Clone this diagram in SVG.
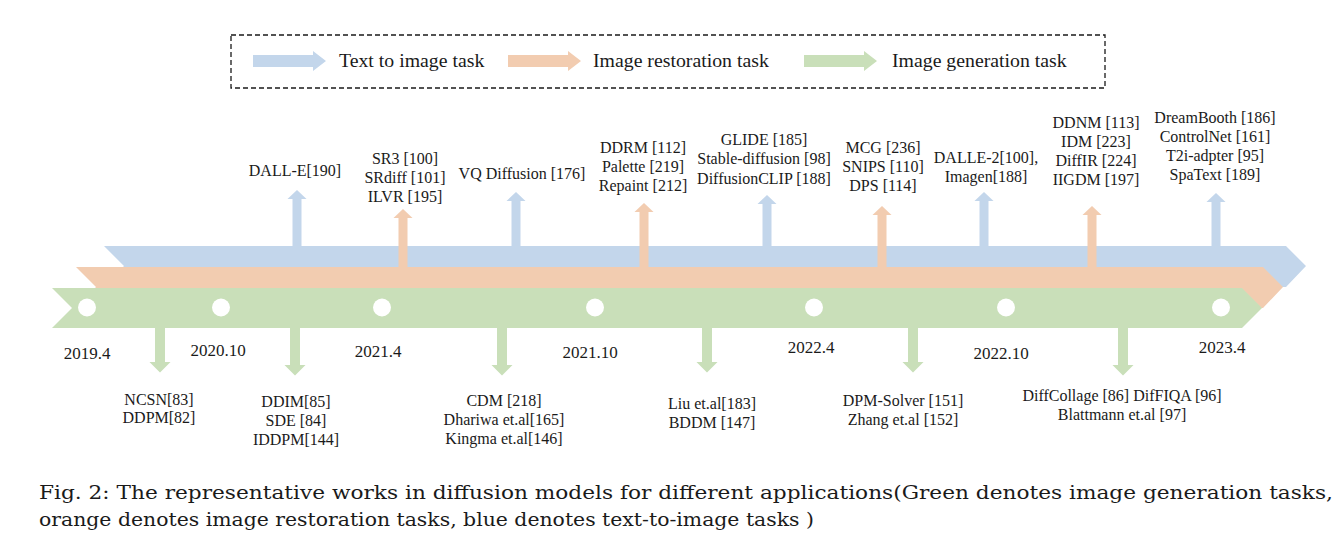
<svg xmlns="http://www.w3.org/2000/svg" width="1341" height="551" viewBox="0 0 1341 551">
<style>
.blue{fill:#c3d6eb}
.orange{fill:#f2ccb0}
.green{fill:#c9dfb9}
.lbl{font-family:"Liberation Serif","Times New Roman",serif;font-size:16px;fill:#1a1a1a;text-anchor:middle}
.yr{font-family:"Liberation Serif","Times New Roman",serif;font-size:17px;fill:#1a1a1a;text-anchor:middle}
.leg{font-family:"Liberation Serif","Times New Roman",serif;font-size:19.8px;fill:#1a1a1a}
.cap{font-family:"DejaVu Serif",serif;font-size:19px;fill:#1a1a1a}
.dot{fill:#ffffff}
</style>
<rect width="1341" height="551" fill="#ffffff"/>

<g id="legend">
  <rect x="231" y="35" width="874" height="53" fill="none" stroke="#1a1a1a" stroke-width="1.3" stroke-dasharray="5 3"/>
  <g id="legend-text2image">
    <path class="blue" d="M253,55 H313 V51 L326,61 L313,71 V67 H253 Z"/>
    <text class="leg" x="339" y="67">Text to image task</text>
  </g>
  <g id="legend-restoration">
    <path class="orange" d="M508,55 H568 V51 L581,61 L568,71 V67 H508 Z"/>
    <text class="leg" x="593" y="67">Image restoration task</text>
  </g>
  <g id="legend-generation">
    <path class="green" d="M804,55 H864 V51 L877,61 L864,71 V67 H804 Z"/>
    <text class="leg" x="892" y="67">Image generation task</text>
  </g>
</g>

<g id="bands">
  <path id="band-blue" class="blue" d="M104,246 H1286 L1306,266 L1286,287 H104 L124,266 Z"/>
  <path id="band-orange" class="orange" d="M76,267 H1263 L1283,287 L1263,308 H76 L96,287 Z"/>
  <path id="band-green" class="green" d="M52,288 H1242 L1262,308 L1242,328 H52 L72,308 Z"/>
  <circle class="dot" cx="87" cy="307.5" r="9"/>
  <circle class="dot" cx="221" cy="307.5" r="9"/>
  <circle class="dot" cx="382" cy="307.5" r="9"/>
  <circle class="dot" cx="595" cy="307.5" r="9"/>
  <circle class="dot" cx="814" cy="307.5" r="9"/>
  <circle class="dot" cx="1006" cy="307.5" r="9"/>
  <circle class="dot" cx="1221" cy="307.5" r="9"/>
</g>

<g id="connectors">
  <path class="blue" d="M292.5,247 V199 H287.5 L297,190 L306.5,199 H301.5 V247 Z"/>
  <path class="blue" d="M511.5,247 V201 H506.5 L516,192 L525.5,201 H520.5 V247 Z"/>
  <path class="blue" d="M762.5,247 V204 H757.5 L767,195 L776.5,204 H771.5 V247 Z"/>
  <path class="blue" d="M979.5,247 V201 H974.5 L984,192 L993.5,201 H988.5 V247 Z"/>
  <path class="blue" d="M1211.5,247 V202 H1206.5 L1216,193 L1225.5,202 H1220.5 V247 Z"/>
  <path class="orange" d="M398.5,268 V218 H393.5 L403,209 L412.5,218 H407.5 V268 Z"/>
  <path class="orange" d="M639.5,268 V212 H634.5 L644,203 L653.5,212 H648.5 V268 Z"/>
  <path class="orange" d="M877.5,268 V215 H872.5 L882,206 L891.5,215 H886.5 V268 Z"/>
  <path class="orange" d="M1087.5,268 V215 H1082.5 L1092,206 L1101.5,215 H1096.5 V268 Z"/>
  <path class="green" d="M155,327 V362 H149.5 L160,372.5 L170.5,362 H165 V327 Z"/>
  <path class="green" d="M290,327 V365 H284.5 L295,375.5 L305.5,365 H300 V327 Z"/>
  <path class="green" d="M497,327 V365 H491.5 L502,375.5 L512.5,365 H507 V327 Z"/>
  <path class="green" d="M702,327 V362 H696.5 L707,372.5 L717.5,362 H712 V327 Z"/>
  <path class="green" d="M908,327 V362 H902.5 L913,372.5 L923.5,362 H918 V327 Z"/>
  <path class="green" d="M1118,327 V365 H1112.5 L1123,375.5 L1133.5,365 H1128 V327 Z"/>
</g>

<g id="years">
  <text class="yr" x="87" y="359">2019.4</text>
  <text class="yr" x="218" y="356">2020.10</text>
  <text class="yr" x="378" y="357">2021.4</text>
  <text class="yr" x="590" y="358">2021.10</text>
  <text class="yr" x="811" y="353">2022.4</text>
  <text class="yr" x="1001" y="359">2022.10</text>
  <text class="yr" x="1222" y="353">2023.4</text>
</g>

<g id="node-dalle">
  <text class="lbl" x="295" y="176">DALL-E[190]</text>
</g>
<g id="node-sr3">
  <text class="lbl" x="405" y="164">SR3 [100]</text>
  <text class="lbl" x="405" y="183">SRdiff [101]</text>
  <text class="lbl" x="405" y="202">ILVR [195]</text>
</g>
<g id="node-vq">
  <text class="lbl" x="522" y="179">VQ Diffusion [176]</text>
</g>
<g id="node-ddrm">
  <text class="lbl" x="643" y="153">DDRM [112]</text>
  <text class="lbl" x="643" y="172">Palette [219]</text>
  <text class="lbl" x="643" y="191">Repaint [212]</text>
</g>
<g id="node-glide">
  <text class="lbl" x="764" y="145">GLIDE [185]</text>
  <text class="lbl" x="764" y="164">Stable-diffusion [98]</text>
  <text class="lbl" x="764" y="184">DiffusionCLIP [188]</text>
</g>
<g id="node-mcg">
  <text class="lbl" x="883" y="153">MCG [236]</text>
  <text class="lbl" x="883" y="172">SNIPS [110]</text>
  <text class="lbl" x="883" y="191">DPS [114]</text>
</g>
<g id="node-dalle2">
  <text class="lbl" x="986" y="163">DALLE-2[100],</text>
  <text class="lbl" x="986" y="182">Imagen[188]</text>
</g>
<g id="node-ddnm">
  <text class="lbl" x="1096" y="128">DDNM [113]</text>
  <text class="lbl" x="1096" y="147">IDM [223]</text>
  <text class="lbl" x="1096" y="166">DiffIR [224]</text>
  <text class="lbl" x="1096" y="185">IIGDM [197]</text>
</g>
<g id="node-dreambooth">
  <text class="lbl" x="1215" y="123">DreamBooth [186]</text>
  <text class="lbl" x="1215" y="142">ControlNet [161]</text>
  <text class="lbl" x="1215" y="161">T2i-adpter [95]</text>
  <text class="lbl" x="1215" y="180">SpaText [189]</text>
</g>

<g id="node-ncsn">
  <text class="lbl" x="159" y="405">NCSN[83]</text>
  <text class="lbl" x="159" y="423">DDPM[82]</text>
</g>
<g id="node-ddim">
  <text class="lbl" x="296" y="407">DDIM[85]</text>
  <text class="lbl" x="296" y="426">SDE [84]</text>
  <text class="lbl" x="296" y="445">IDDPM[144]</text>
</g>
<g id="node-cdm">
  <text class="lbl" x="504" y="406">CDM [218]</text>
  <text class="lbl" x="504" y="425">Dhariwa et.al[165]</text>
  <text class="lbl" x="504" y="444">Kingma et.al[146]</text>
</g>
<g id="node-liu">
  <text class="lbl" x="712" y="409">Liu et.al[183]</text>
  <text class="lbl" x="712" y="428">BDDM [147]</text>
</g>
<g id="node-dpm">
  <text class="lbl" x="903" y="406">DPM-Solver [151]</text>
  <text class="lbl" x="903" y="425">Zhang et.al [152]</text>
</g>
<g id="node-diffcollage">
  <text class="lbl" x="1122" y="401">DiffCollage [86] DifFIQA [96]</text>
  <text class="lbl" x="1122" y="420">Blattmann et.al [97]</text>
</g>

<g id="caption">
  <text class="cap" x="39" y="499" textLength="1294" lengthAdjust="spacingAndGlyphs">Fig. 2: The representative works in diffusion models for different applications(Green denotes image generation tasks,</text>
  <text class="cap" x="39" y="526" textLength="775" lengthAdjust="spacingAndGlyphs">orange denotes image restoration tasks, blue denotes text-to-image tasks )</text>
</g>
</svg>
